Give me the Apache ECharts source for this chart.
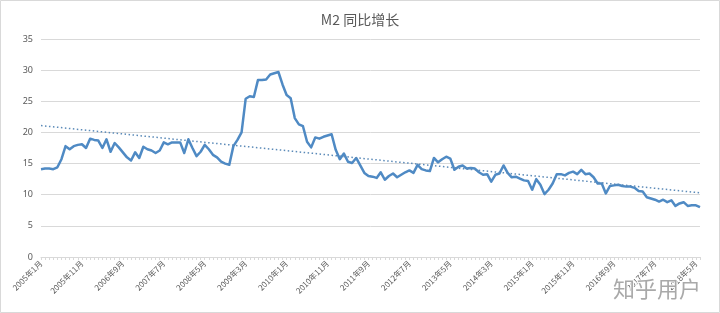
<!DOCTYPE html>
<html>
<head>
<meta charset="utf-8">
<script src="https://cdn.jsdelivr.net/npm/echarts@6/dist/echarts.min.js"></script>
<style>
html,body{margin:0;padding:0;background:#fff;}
#c{width:720px;height:313px;}
</style>
</head>
<body>
<div id="c"></div>
<script>
const chartTitle = 'M2 同比增长';
const startYear = 2005;
const startMonth = 1;
const m2Values = [
  14.1, 14.2, 14.2, 14.1, 14.4, 15.7, 17.8, 17.3, 17.8, 18.0, 18.1, 17.5,
  19.0, 18.8, 18.7, 17.5, 18.9, 16.9, 18.3, 17.6, 16.8, 16.0, 15.5, 16.8,
  15.9, 17.7, 17.3, 17.1, 16.7, 17.1, 18.4, 18.1, 18.4, 18.4, 18.4, 16.7,
  18.9, 17.5, 16.2, 16.9, 18.0, 17.3, 16.4, 16.0, 15.3, 15.0, 14.8, 17.8,
  18.8, 20.0, 25.4, 25.8, 25.7, 28.4, 28.4, 28.5, 29.3, 29.5, 29.7, 27.7,
  26.0, 25.5, 22.3, 21.3, 21.0, 18.5, 17.6, 19.2, 19.0, 19.3, 19.5, 19.7,
  17.2, 15.7, 16.6, 15.3, 15.1, 15.9, 14.7, 13.5, 13.0, 12.9, 12.7, 13.6,
  12.4, 13.0, 13.4, 12.8, 13.2, 13.6, 13.9, 13.5, 14.8, 14.1, 13.9, 13.8,
  15.9, 15.2, 15.7, 16.1, 15.8, 14.0, 14.5, 14.7, 14.2, 14.3, 14.2, 13.6,
  13.2, 13.3, 12.1, 13.2, 13.4, 14.7, 13.5, 12.8, 12.9, 12.6, 12.3, 12.2,
  10.8, 12.5, 11.6, 10.1, 10.8, 11.8, 13.3, 13.3, 13.1, 13.5, 13.7, 13.3,
  14.0, 13.3, 13.4, 12.8, 11.8, 11.8, 10.2, 11.4, 11.5, 11.6, 11.4, 11.3,
  11.3, 11.1, 10.6, 10.5, 9.6, 9.4, 9.2, 8.9, 9.2, 8.8, 9.1, 8.2,
  8.6, 8.8, 8.2, 8.3, 8.3, 8.0
];
// linear trendline end values
const trendStart = 21.1;
const trendEnd = 10.3;
const yTicks = [0, 5, 10, 15, 20, 25, 30, 35];
const watermark = '知乎用户';

// month categories
const categories = m2Values.map((_, i) => {
  const t = (startMonth - 1) + i;
  return (startYear + Math.floor(t / 12)) + '年' + (t % 12 + 1) + '月';
});

const chart = echarts.init(document.getElementById('c'), null, {renderer: 'canvas'});
chart.setOption({
  backgroundColor: '#fff',
  animation: false,
  title: {
    text: chartTitle,
    left: 'center',
    top: 8,
    textStyle: {fontFamily: '"Noto Sans CJK SC", sans-serif', fontSize: 14, fontWeight: 'normal', color: '#595959'}
  },
  grid: {left: 41, right: 20, top: 39, bottom: 56, containLabel: false},
  xAxis: {
    type: 'category',
    data: categories,
    boundaryGap: false,
    axisLine: {lineStyle: {color: '#d9d9d9', width: 1}},
    axisTick: {show: true, interval: 0, length: 3, lineStyle: {color: '#d9d9d9'}},
    axisLabel: {
      interval: 9,
      rotate: 45,
      fontSize: 8,
      color: '#595959',
      margin: 5,
      fontFamily: '"Noto Sans CJK SC", sans-serif'
    },
    splitLine: {show: false}
  },
  yAxis: {
    type: 'value',
    min: yTicks[0],
    max: yTicks[yTicks.length - 1],
    interval: yTicks[1] - yTicks[0],
    axisLine: {show: false},
    axisTick: {show: false},
    axisLabel: {fontSize: 9, color: '#595959', margin: 8, fontFamily: '"Noto Sans", sans-serif'},
    splitLine: {lineStyle: {color: '#d9d9d9', width: 1}}
  },
  series: [
    {
      type: 'line',
      data: m2Values,
      symbol: 'none',
      lineStyle: {color: '#4f8ac4', width: 2.5, join: 'round'},
      z: 3,
      markLine: {
        silent: true,
        symbol: ['none', 'none'],
        label: {show: false},
        lineStyle: {color: '#5b8ab8', width: 1.5, type: [1.5, 2.5]},
        data: [[
          {coord: [categories[0], trendStart]},
          {coord: [categories[categories.length - 1], trendEnd]}
        ]]
      }
    }
  ],
  graphic: [
    {
      type: 'rect',
      shape: {x: 0.5, y: 0.5, width: 719, height: 312},
      style: {fill: 'none', stroke: '#d9d9d9', lineWidth: 1},
      silent: true
    },
    {
      type: 'text',
      left: 612,
      top: 277,
      style: {
        text: watermark,
        font: '22px "Noto Sans CJK SC", sans-serif',
        fill: 'rgba(140,140,140,0.75)',
        stroke: 'rgba(255,255,255,0.9)',
        lineWidth: 2
      },
      z: 100
    }
  ]
});
</script>
</body>
</html>
